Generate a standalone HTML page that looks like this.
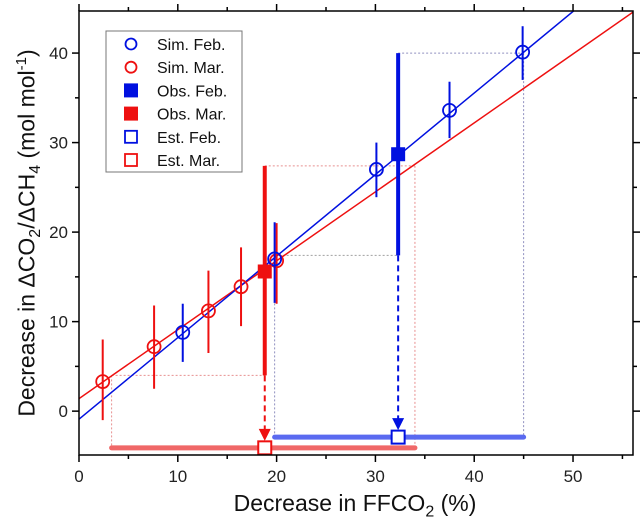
<!DOCTYPE html>
<html><head><meta charset="utf-8"><style>
body{margin:0;background:#fff;}
svg{display:block;font-family:"Liberation Sans",sans-serif;}
</style></head><body>
<svg id="chart" width="644" height="531"></svg>
<script>
const simFebX=[10.5,19.8,30.1,37.5,44.9];
const simFebY=[8.8,17.0,27.0,33.6,40.1];
const simFebLo=[5.5,12.1,23.9,30.5,37.0];
const simFebHi=[12.0,21.1,30.0,36.8,43.0];
const simMarX=[2.4,7.6,13.1,16.4,20.0];
const simMarY=[3.3,7.2,11.2,13.9,16.8];
const simMarLo=[-1.0,2.5,6.5,9.5,12.0];
const simMarHi=[8.0,11.8,15.7,18.3,21.0];
const obsFeb=[32.3,28.7,17.4,40.0];
const obsMar=[18.8,15.6,4.0,27.4];
const estFeb=[32.3,-2.9,19.8,45.0];
const estMar=[18.8,-4.1,3.3,34.0];
const lineFeb=[-0.9,0.911];
const lineMar=[1.4,0.77];
const xTicks=[0,10,20,30,40,50];
const yTicks=[0,10,20,30,40];
const legendLabels=["Sim. Feb.","Sim. Mar.","Obs. Feb.","Obs. Mar.","Est. Feb.","Est. Mar."];

const L=79,R=633,T=11,B=455,X0=0,X1=56.07,Y0=-4.9,Y1=44.7;
const sx=v=>L+(v-X0)/(X1-X0)*(R-L);
const sy=v=>B-(v-Y0)/(Y1-Y0)*(B-T);
const svg=document.getElementById('chart');
const NS='http://www.w3.org/2000/svg';
function mk(tag,attrs,parent){const e=document.createElementNS(NS,tag);for(const k in attrs)e.setAttribute(k,attrs[k]);(parent||svg).appendChild(e);return e;}
const BLUE='#0010e0',RED='#ee1010';

const defs=mk('defs',{});const cp=mk('clipPath',{id:'pc'},defs);mk('rect',{x:L,y:T,width:R-L,height:B-T},cp);
const plot=mk('g',{'clip-path':'url(#pc)'});



function guide(x1,y1,x2,y2,c,name){const l=mk('line',{x1:sx(x1),y1:sy(y1),x2:sx(x2),y2:sy(y2),stroke:c,'stroke-width':1,'stroke-dasharray':'2,2'},plot);}
guide(obsMar[0],obsMar[3],estMar[3],obsMar[3],'#e89090','guide-mar-high');
guide(estMar[3],obsMar[3],estMar[3],estMar[1],'#e89090','guide-mar-high-drop');
guide(estMar[2],obsMar[2],obsMar[0],obsMar[2],'#e89090','guide-mar-low');
guide(estMar[2],obsMar[2],estMar[2],estMar[1],'#e89090','guide-mar-low-drop');
guide(obsFeb[0],obsFeb[3],estFeb[3],obsFeb[3],'#9090c0','guide-feb-high');
guide(estFeb[3],obsFeb[3],estFeb[3],estFeb[1],'#9090c0','guide-feb-high-drop');
guide(estFeb[2],obsFeb[2],obsFeb[0],obsFeb[2],'#a0a0a0','guide-feb-low');
guide(estFeb[2],obsFeb[2],estFeb[2],estFeb[1],'#9090c0','guide-feb-low-drop');

function fit(p,c,name){const l=mk('line',{x1:sx(X0),y1:sy(p[0]+p[1]*X0),x2:sx(X1),y2:sy(p[0]+p[1]*X1),stroke:c,'stroke-width':1.5},plot);}
fit(lineMar,RED,'fit-line-mar');
fit(lineFeb,BLUE,'fit-line-feb');

function rng(e,c,name){const l=mk('line',{x1:sx(e[2]),y1:sy(e[1]),x2:sx(e[3]),y2:sy(e[1]),stroke:c,'stroke-width':5,'stroke-linecap':'round'},plot);}
rng(estMar,'#f06868','range-bar-mar');
rng(estFeb,'#5a6af0','range-bar-feb');

function sims(xs,ys,lo,hi,c,name){for(let i=0;i<xs.length;i++){const g=mk('g',{},plot);
mk('line',{x1:sx(xs[i]),y1:sy(lo[i]),x2:sx(xs[i]),y2:sy(hi[i]),stroke:c,'stroke-width':2},g);
mk('circle',{cx:sx(xs[i]),cy:sy(ys[i]),r:6.5,fill:'none',stroke:c,'stroke-width':1.8},g);}}
sims(simMarX,simMarY,simMarLo,simMarHi,RED,'sim-mar-point');
sims(simFebX,simFebY,simFebLo,simFebHi,BLUE,'sim-feb-point');

function obs(o,e,c,name){const g=mk('g',{},plot);
mk('line',{x1:sx(o[0]),y1:sy(o[2]),x2:sx(o[0]),y2:sy(o[3]),stroke:c,'stroke-width':4},g);
mk('rect',{x:sx(o[0])-7,y:sy(o[1])-7,width:14,height:14,fill:c},g);
mk('line',{x1:sx(o[0]),y1:sy(o[2]),x2:sx(o[0]),y2:sy(e[1])-16,stroke:c,'stroke-width':2,'stroke-dasharray':'6,4'},g);
const ax=sx(o[0]),ay=sy(e[1])-7;
mk('polygon',{points:`${ax-6},${ay-12} ${ax+6},${ay-12} ${ax},${ay}`,fill:c},g);
mk('rect',{x:sx(e[0])-6.5,y:sy(e[1])-6.5,width:13,height:13,fill:'#fff',stroke:c,'stroke-width':2},g);}
obs(obsMar,estMar,RED,'obs-mar');
obs(obsFeb,estFeb,BLUE,'obs-feb');

const fr=mk('rect',{x:L,y:T,width:R-L,height:B-T,fill:'none',stroke:'#000','stroke-width':1.5});

for(let v=0;v<=55;v+=5){const maj=v%10===0,len=maj?7:4,x=sx(v);
mk('line',{x1:x,y1:B,x2:x,y2:B+len,stroke:'#000','stroke-width':1.5});
mk('line',{x1:x,y1:T,x2:x,y2:T-len,stroke:'#000','stroke-width':1.5});}
for(let v=0;v<=40;v+=5){const maj=v%10===0,len=maj?7:4,y=sy(v);
mk('line',{x1:L,y1:y,x2:L-len,y2:y,stroke:'#000','stroke-width':1.5});
mk('line',{x1:R,y1:y,x2:R+len,y2:y,stroke:'#000','stroke-width':1.5});}
xTicks.forEach(v=>{const t=mk('text',{x:sx(v),y:B+27,'text-anchor':'middle','font-size':17,fill:'#222'});t.textContent=v;});
yTicks.forEach(v=>{const t=mk('text',{x:L-11,y:sy(v)+6,'text-anchor':'end','font-size':17,fill:'#222'});t.textContent=v;});

const lg=mk('g',{});
mk('rect',{x:106,y:31,width:136,height:141,fill:'#fff',stroke:'#777','stroke-width':1},lg);
const lc=[BLUE,RED,BLUE,RED,BLUE,RED];
legendLabels.forEach((lab,i)=>{const y=44+i*23.2;const g=mk('g',{},lg);
if(i<2)mk('circle',{cx:131,cy:y,r:5.5,fill:'none',stroke:lc[i],'stroke-width':1.8},g);
else if(i<4)mk('rect',{x:124,y:y-7,width:14,height:14,fill:lc[i]},g);
else mk('rect',{x:125,y:y-6,width:12,height:12,fill:'none',stroke:lc[i],'stroke-width':1.8},g);
const t=mk('text',{x:157,y:y+6,'font-size':16,fill:'#111'},g);t.textContent=lab;});
</script>
<div style="position:absolute;left:0;top:490px;width:644px;padding-left:66px;box-sizing:border-box;text-align:center;font:23px 'Liberation Sans',sans-serif;color:#111;">Decrease in FFCO<sub style="font-size:16px">2</sub> (%)</div>
<div style="position:absolute;left:29px;top:233px;white-space:nowrap;font:23px 'Liberation Sans',sans-serif;color:#111;transform:translate(-50%,-50%) rotate(-90deg);">Decrease in ΔCO<sub style="font-size:16px">2</sub>/ΔCH<sub style="font-size:16px">4</sub> (mol mol<sup style="font-size:15px">-1</sup>)</div>
</body></html>
